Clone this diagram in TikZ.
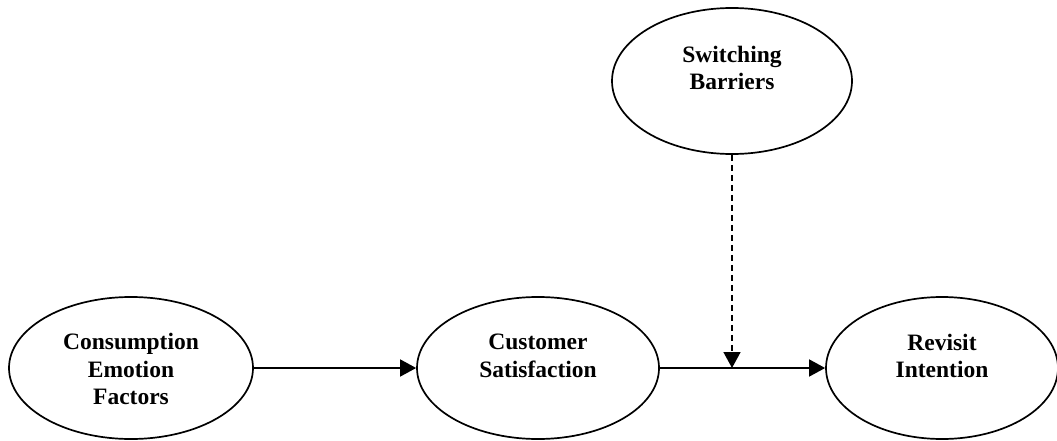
\documentclass[tikz,border=0pt]{standalone}
\usepackage{fontspec}
\setmainfont{Liberation Serif}
\usetikzlibrary{arrows.meta, positioning, shapes.geometric}

\tikzset{
    construct/.style={draw, ellipse, line width=1.7pt, inner sep=0pt},
    caption/.style={align=center, font=\fontsize{23.5}{27.5}\selectfont\bfseries},
    link/.style={line width=1.5pt, -{Triangle[length=16pt, width=17pt]}},
    moderate/.style={link, dash pattern=on 6pt off 4pt}
}

\begin{document}
\begin{tikzpicture}[x=1pt, y=-1pt]
    \useasboundingbox (0, 0) rectangle (1057, 441);

    % Constructs
    \node[construct, minimum width=244pt, minimum height=142pt] (emotion) at (131, 368) {};
    \node[construct, minimum width=242pt, minimum height=142pt] (satisfaction) at (538, 368) {};
    \node[construct, minimum width=232pt, minimum height=142pt] (revisit) at (942, 368) {};
    \node[construct, minimum width=240pt, minimum height=146pt] (barriers) at (732, 81) {};

    % Texts
    \node[caption, yshift=-1pt] (emotiontext) at (emotion.center) {Consumption\\Emotion\\Factors};
    \node[caption, yshift=12pt] (satisfactiontext) at (satisfaction.center) {Customer\\Satisfaction};
    \node[caption, yshift=12pt] (revisittext) at (revisit.center) {Revisit\\Intention};
    \node[caption, yshift=13pt] (barrierstext) at (barriers.center) {Switching\\Barriers};

    % Paths
    \coordinate (meet) at (barriers |- satisfaction);
    \draw[link] (emotion) -- (satisfaction);
    \draw[link] (satisfaction) -- (revisit);
    \draw[moderate] (barriers) -- (meet);
\end{tikzpicture}
\end{document}
